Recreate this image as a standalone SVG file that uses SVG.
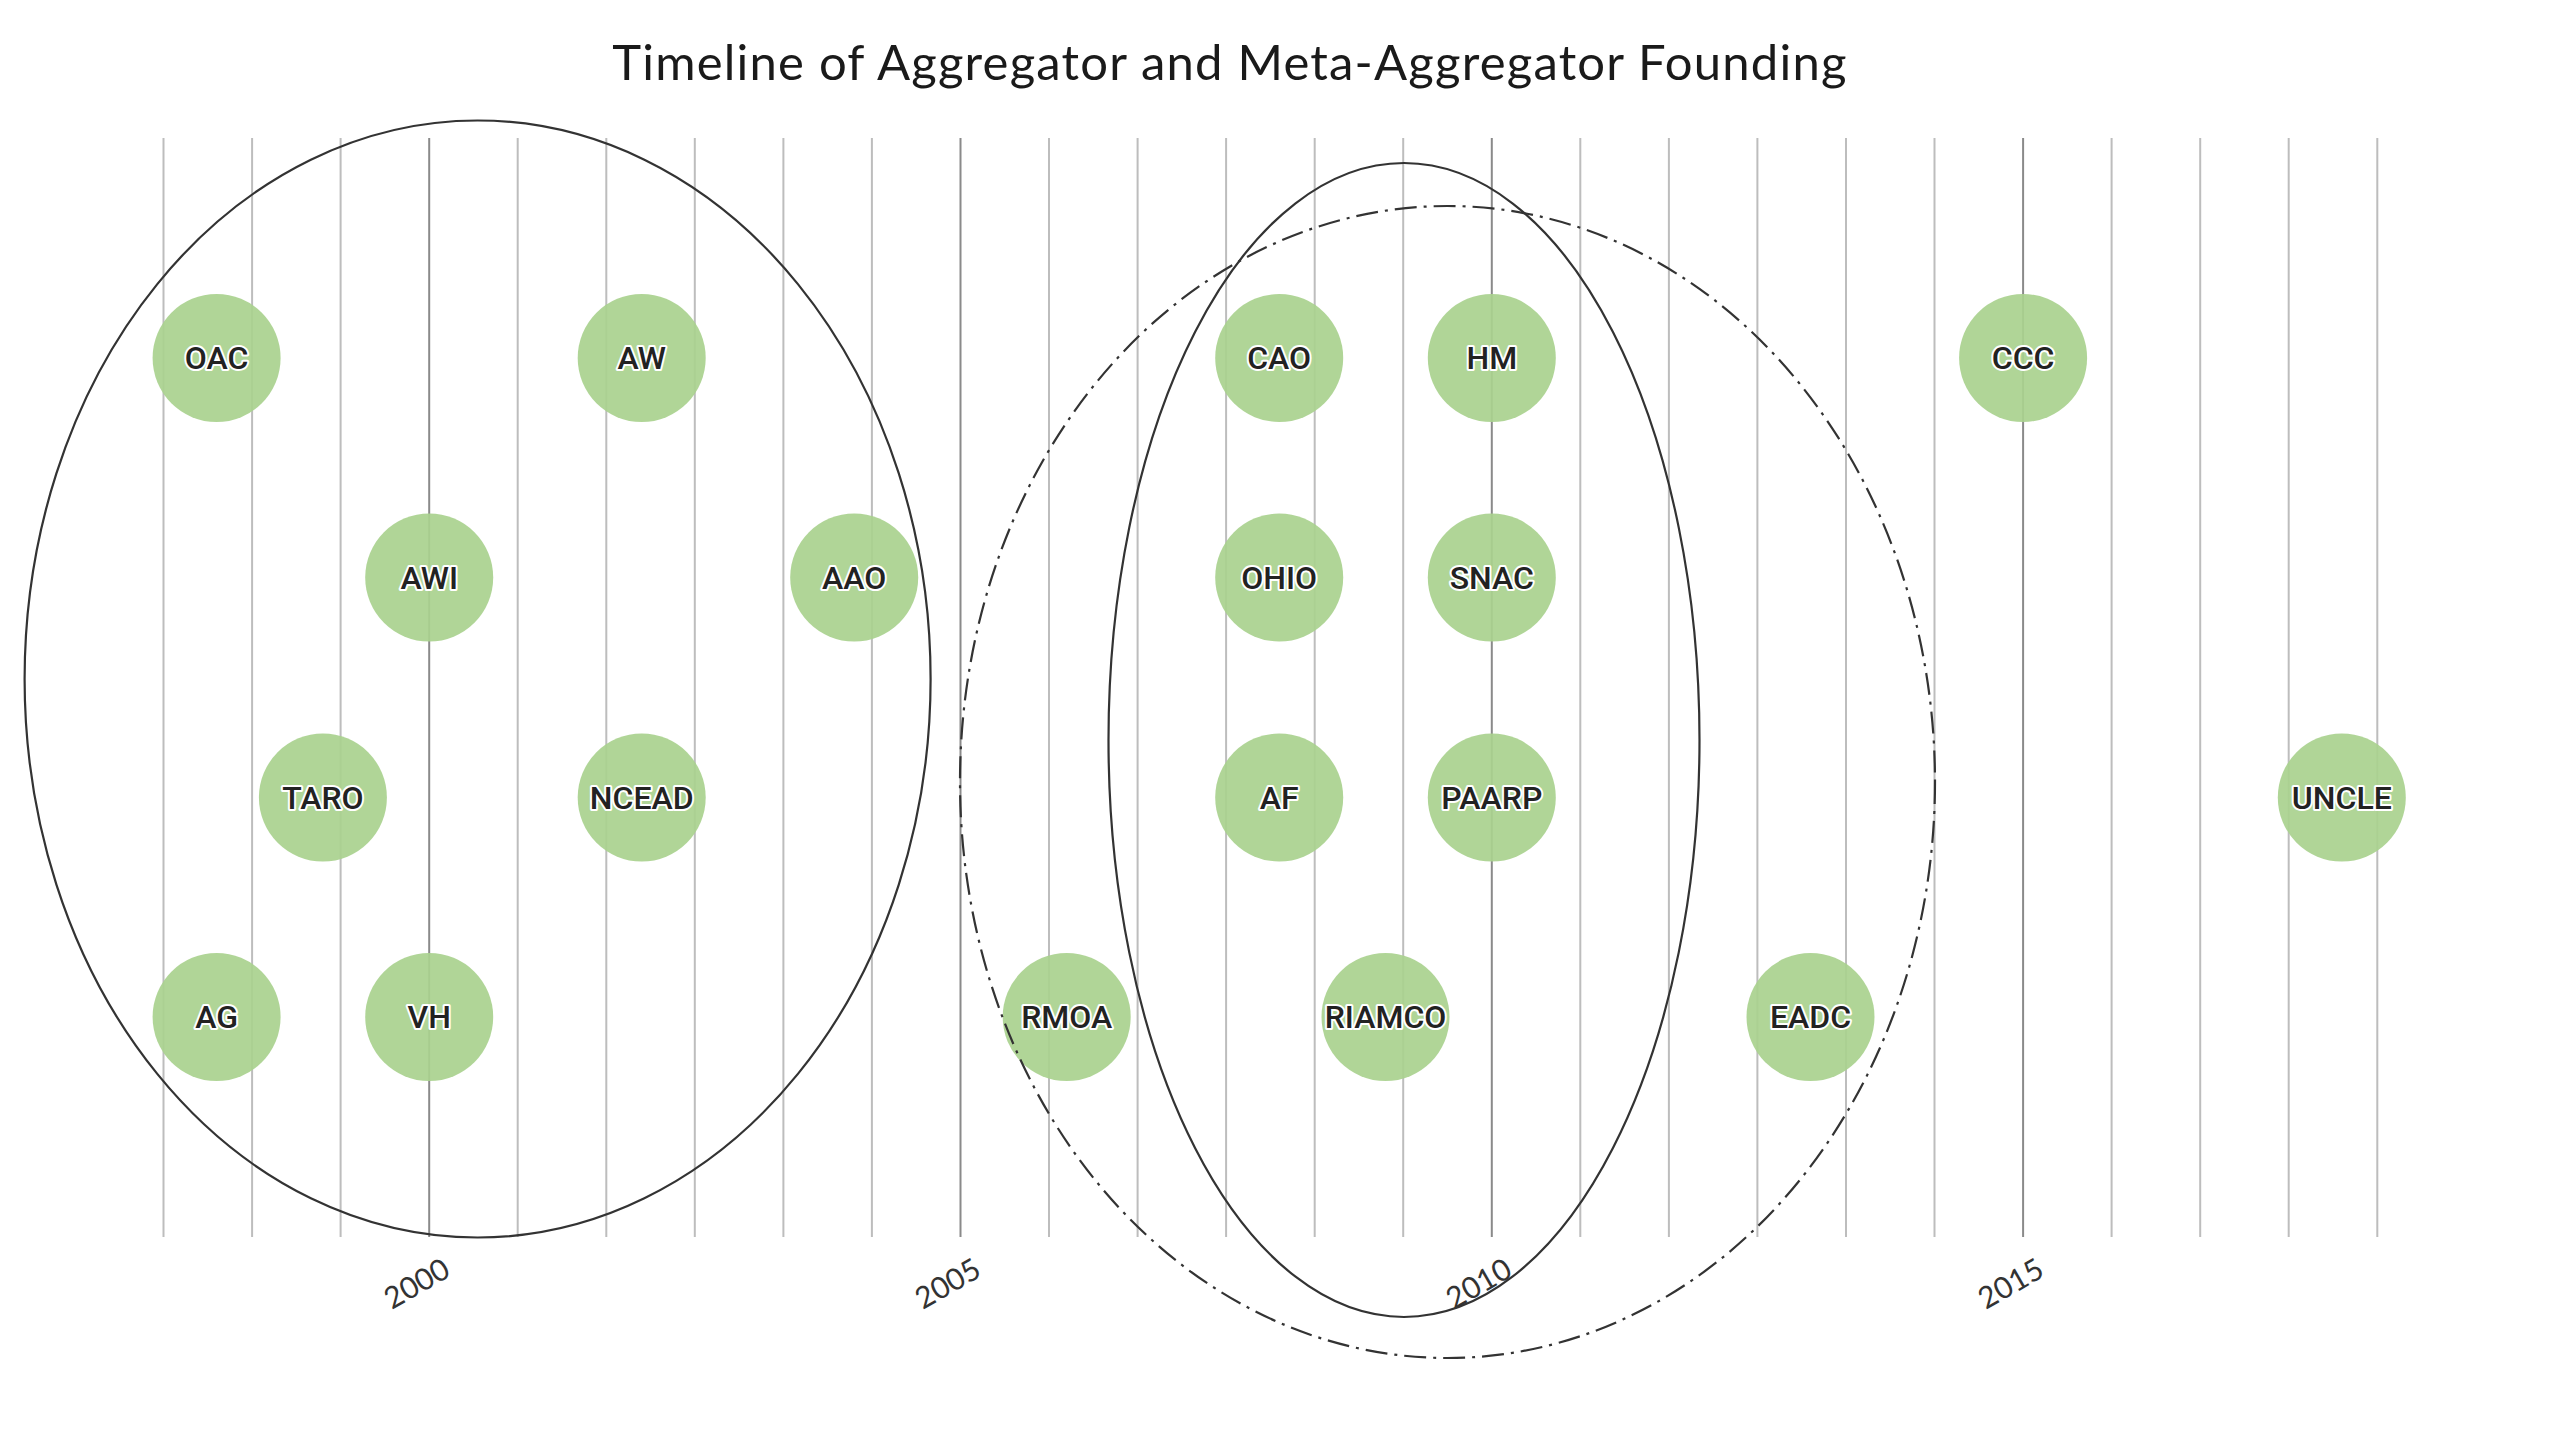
<svg xmlns="http://www.w3.org/2000/svg" width="2560" height="1440" viewBox="0 0 2560 1440">
<style>
.grid line{stroke:#bdbdbd;stroke-width:2}
.grid line.yr{stroke:#8a8a8a}
.node circle{fill:#a9d18e;fill-opacity:0.92}
.node text{font-family:Roboto,"Liberation Sans",sans-serif;font-size:32px;font-weight:500;fill:#222;stroke:#fff;stroke-width:4;paint-order:stroke;stroke-linejoin:round;text-anchor:middle}
.ax{font-family:Lato,"Noto Sans",sans-serif;font-size:30px;fill:#333;text-anchor:middle}
.grp{fill:none;stroke:#333;stroke-width:2.2}
.dd{stroke-dasharray:22 7 3 7}
</style>
<rect width="2560" height="1440" fill="#fff"/>
<text x="1230" y="80" font-family="Lato,'Noto Sans',sans-serif" font-size="49" letter-spacing="1.2" fill="#1a1a1a" text-anchor="middle">Timeline of Aggregator and Meta-Aggregator Founding</text>
<g id="grid" class="grid">
<line x1="163.5" y1="138" x2="163.5" y2="1237"/>
<line x1="252.1" y1="138" x2="252.1" y2="1237"/>
<line x1="340.6" y1="138" x2="340.6" y2="1237"/>
<line class="yr" x1="429.2" y1="138" x2="429.2" y2="1237"/>
<line x1="517.7" y1="138" x2="517.7" y2="1237"/>
<line x1="606.3" y1="138" x2="606.3" y2="1237"/>
<line x1="694.8" y1="138" x2="694.8" y2="1237"/>
<line x1="783.4" y1="138" x2="783.4" y2="1237"/>
<line x1="871.9" y1="138" x2="871.9" y2="1237"/>
<line class="yr" x1="960.5" y1="138" x2="960.5" y2="1237"/>
<line x1="1049" y1="138" x2="1049" y2="1237"/>
<line x1="1137.6" y1="138" x2="1137.6" y2="1237"/>
<line x1="1226.1" y1="138" x2="1226.1" y2="1237"/>
<line x1="1314.7" y1="138" x2="1314.7" y2="1237"/>
<line x1="1403.2" y1="138" x2="1403.2" y2="1237"/>
<line class="yr" x1="1491.8" y1="138" x2="1491.8" y2="1237"/>
<line x1="1580.3" y1="138" x2="1580.3" y2="1237"/>
<line x1="1668.9" y1="138" x2="1668.9" y2="1237"/>
<line x1="1757.4" y1="138" x2="1757.4" y2="1237"/>
<line x1="1846" y1="138" x2="1846" y2="1237"/>
<line x1="1934.5" y1="138" x2="1934.5" y2="1237"/>
<line class="yr" x1="2023.1" y1="138" x2="2023.1" y2="1237"/>
<line x1="2111.6" y1="138" x2="2111.6" y2="1237"/>
<line x1="2200.2" y1="138" x2="2200.2" y2="1237"/>
<line x1="2288.7" y1="138" x2="2288.7" y2="1237"/>
<line x1="2377.3" y1="138" x2="2377.3" y2="1237"/>
</g>
<g id="axis-labels">
<text class="ax" transform="translate(417,1284) rotate(-30)" dy="10">2000</text>
<text class="ax" transform="translate(948,1284) rotate(-30)" dy="10">2005</text>
<text class="ax" transform="translate(1479,1284) rotate(-30)" dy="10">2010</text>
<text class="ax" transform="translate(2011,1284) rotate(-30)" dy="10">2015</text>
</g>
<g id="n-OAC" class="node"><circle cx="216.6" cy="358" r="64"/><text x="216.6" y="369">OAC</text></g>
<g id="n-AW" class="node"><circle cx="641.7" cy="358" r="64"/><text x="641.7" y="369">AW</text></g>
<g id="n-CAO" class="node"><circle cx="1279.2" cy="358" r="64"/><text x="1279.2" y="369">CAO</text></g>
<g id="n-HM" class="node"><circle cx="1491.8" cy="358" r="64"/><text x="1491.8" y="369">HM</text></g>
<g id="n-CCC" class="node"><circle cx="2023.1" cy="358" r="64"/><text x="2023.1" y="369">CCC</text></g>
<g id="n-AWI" class="node"><circle cx="429.2" cy="577.5" r="64"/><text x="429.2" y="588.5">AWI</text></g>
<g id="n-AAO" class="node"><circle cx="854.2" cy="577.5" r="64"/><text x="854.2" y="588.5">AAO</text></g>
<g id="n-OHIO" class="node"><circle cx="1279.2" cy="577.5" r="64"/><text x="1279.2" y="588.5">OHIO</text></g>
<g id="n-SNAC" class="node"><circle cx="1491.8" cy="577.5" r="64"/><text x="1491.8" y="588.5">SNAC</text></g>
<g id="n-TARO" class="node"><circle cx="322.9" cy="797.5" r="64"/><text x="322.9" y="808.5">TARO</text></g>
<g id="n-NCEAD" class="node"><circle cx="641.7" cy="797.5" r="64"/><text x="641.7" y="808.5">NCEAD</text></g>
<g id="n-AF" class="node"><circle cx="1279.2" cy="797.5" r="64"/><text x="1279.2" y="808.5">AF</text></g>
<g id="n-PAARP" class="node"><circle cx="1491.8" cy="797.5" r="64"/><text x="1491.8" y="808.5">PAARP</text></g>
<g id="n-UNCLE" class="node"><circle cx="2341.8" cy="797.5" r="64"/><text x="2341.8" y="808.5">UNCLE</text></g>
<g id="n-AG" class="node"><circle cx="216.6" cy="1017" r="64"/><text x="216.6" y="1028">AG</text></g>
<g id="n-VH" class="node"><circle cx="429.2" cy="1017" r="64"/><text x="429.2" y="1028">VH</text></g>
<g id="n-RMOA" class="node"><circle cx="1066.7" cy="1017" r="64"/><text x="1066.7" y="1028">RMOA</text></g>
<g id="n-RIAMCO" class="node"><circle cx="1385.5" cy="1017" r="64"/><text x="1385.5" y="1028">RIAMCO</text></g>
<g id="n-EADC" class="node"><circle cx="1810.5" cy="1017" r="64"/><text x="1810.5" y="1028">EADC</text></g>
<g id="groupings">
<ellipse class="grp" cx="477.6" cy="679" rx="453" ry="558.5"/>
<ellipse class="grp" cx="1404" cy="740" rx="295.5" ry="577"/>
<ellipse class="grp dd" cx="1447.5" cy="782" rx="487.5" ry="576"/>
</g>
</svg>
